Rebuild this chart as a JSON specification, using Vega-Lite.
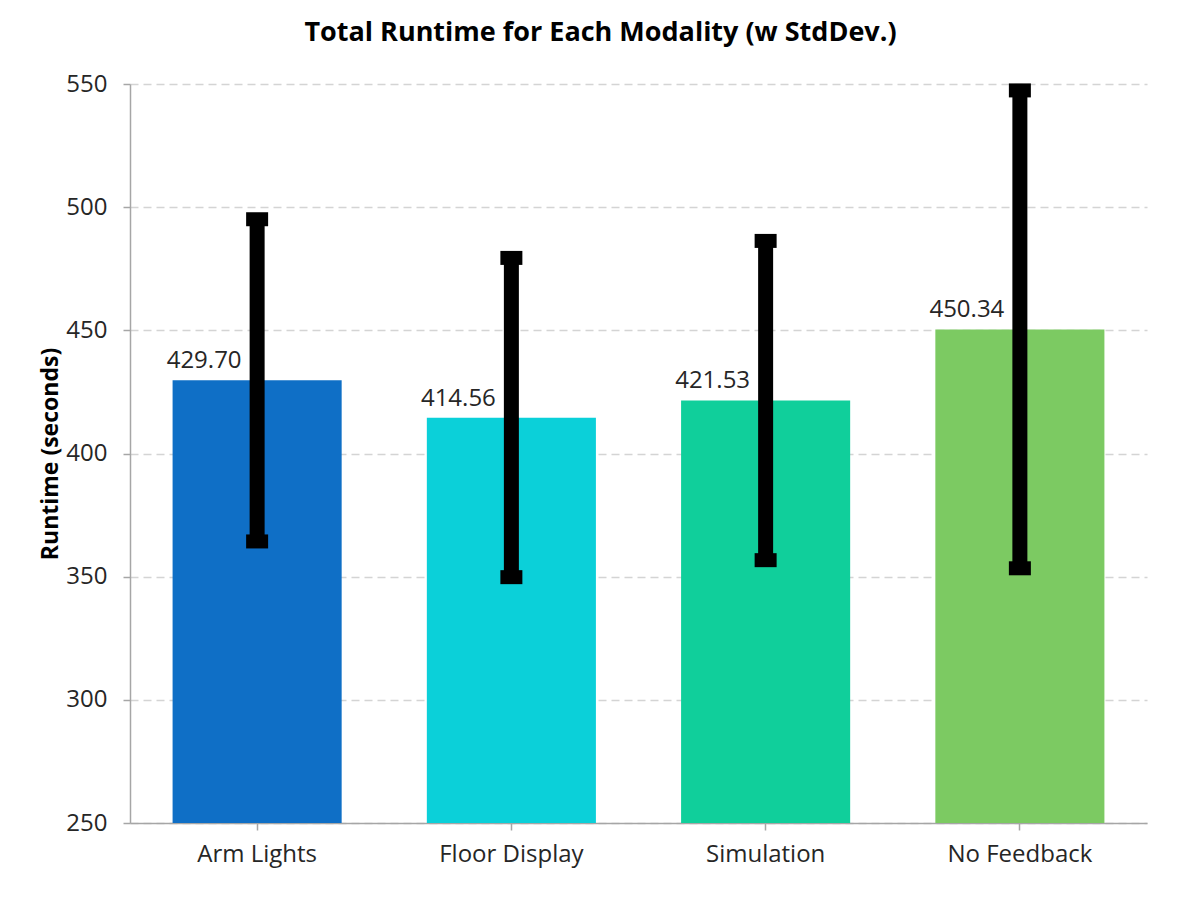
{
  "$schema": "https://vega.github.io/schema/vega-lite/v6.json",
  "width": 1017,
  "height": 739,
  "autosize": {"type": "none"},
  "padding": {"left": 130, "top": 84, "right": 51, "bottom": 94},
  "background": "white",
  "title": {
    "text": "Total Runtime for Each Modality (w StdDev.)",
    "font": "Open Sans",
    "fontSize": 27,
    "fontWeight": "bold",
    "color": "#000000",
    "anchor": "middle",
    "frame": "group",
    "baseline": "alphabetic",
    "dx": -38,
    "offset": 4
  },
  "config": {
    "view": {"stroke": null},
    "font": "Open Sans"
  },
  "data": {
    "values": [
      {"modality": "Arm Lights", "mean": 429.70, "lo": 364.3, "hi": 495.1},
      {"modality": "Floor Display", "mean": 414.56, "lo": 349.8, "hi": 479.4},
      {"modality": "Simulation", "mean": 421.53, "lo": 356.7, "hi": 486.3},
      {"modality": "No Feedback", "mean": 450.34, "lo": 353.4, "hi": 547.4}
    ]
  },
  "encoding": {
    "x": {
      "field": "modality",
      "type": "nominal",
      "sort": null,
      "scale": {"paddingInner": 0.335, "paddingOuter": 0.1675},
      "axis": {
        "title": null,
        "labelAngle": 0,
        "labelFont": "Open Sans",
        "labelFontSize": 24,
        "labelColor": "#262626",
        "labelPadding": 12,
        "tickSize": 7,
        "tickColor": "#A6A6A6",
        "tickWidth": 1.5,
        "domainColor": "#A6A6A6",
        "domainWidth": 1.5,
        "grid": false
      }
    }
  },
  "layer": [
    {
      "mark": {"type": "bar", "clip": true},
      "encoding": {
        "y": {
          "field": "mean",
          "type": "quantitative",
          "title": "Runtime (seconds)",
          "scale": {"domain": [250, 550], "nice": false, "zero": false},
          "axis": {
            "values": [250, 300, 350, 400, 450, 500, 550],
            "titleFont": "Open Sans",
            "titleFontSize": 23,
            "titleFontWeight": "bold",
            "titleColor": "#000000",
            "titlePadding": 3,
            "labelFont": "Open Sans",
            "labelFontSize": 24,
            "labelColor": "#262626",
            "labelPadding": 16,
            "tickSize": 7,
            "tickColor": "#A6A6A6",
            "tickWidth": 1.5,
            "domainColor": "#A6A6A6",
            "domainWidth": 1.5,
            "grid": true,
            "gridColor": "#D4D4D4",
            "gridDash": [8, 5],
            "gridWidth": 1.5
          }
        },
        "color": {
          "field": "modality",
          "type": "nominal",
          "sort": null,
          "scale": {
            "domain": ["Arm Lights", "Floor Display", "Simulation", "No Feedback"],
            "range": ["#0F6FC6", "#0BD0D9", "#10CF9B", "#7CCA62"]
          },
          "legend": null
        }
      }
    },
    {
      "mark": {"type": "rule", "strokeWidth": 15, "color": "#000000"},
      "encoding": {
        "y": {"field": "lo", "type": "quantitative", "title": "Runtime (seconds)"},
        "y2": {"field": "hi"}
      }
    },
    {
      "mark": {"type": "tick", "thickness": 14, "size": 22, "color": "#000000", "opacity": 1},
      "encoding": {
        "y": {"field": "hi", "type": "quantitative", "title": "Runtime (seconds)"}
      }
    },
    {
      "mark": {"type": "tick", "thickness": 14, "size": 22, "color": "#000000", "opacity": 1},
      "encoding": {
        "y": {"field": "lo", "type": "quantitative", "title": "Runtime (seconds)"}
      }
    },
    {
      "mark": {"type": "text", "dx": -53, "dy": -12, "baseline": "alphabetic", "align": "center", "font": "Open Sans", "fontSize": 24, "color": "#262626"},
      "encoding": {
        "y": {"field": "mean", "type": "quantitative", "title": "Runtime (seconds)"},
        "text": {"field": "mean", "type": "quantitative", "format": ".2f"}
      }
    }
  ]
}
